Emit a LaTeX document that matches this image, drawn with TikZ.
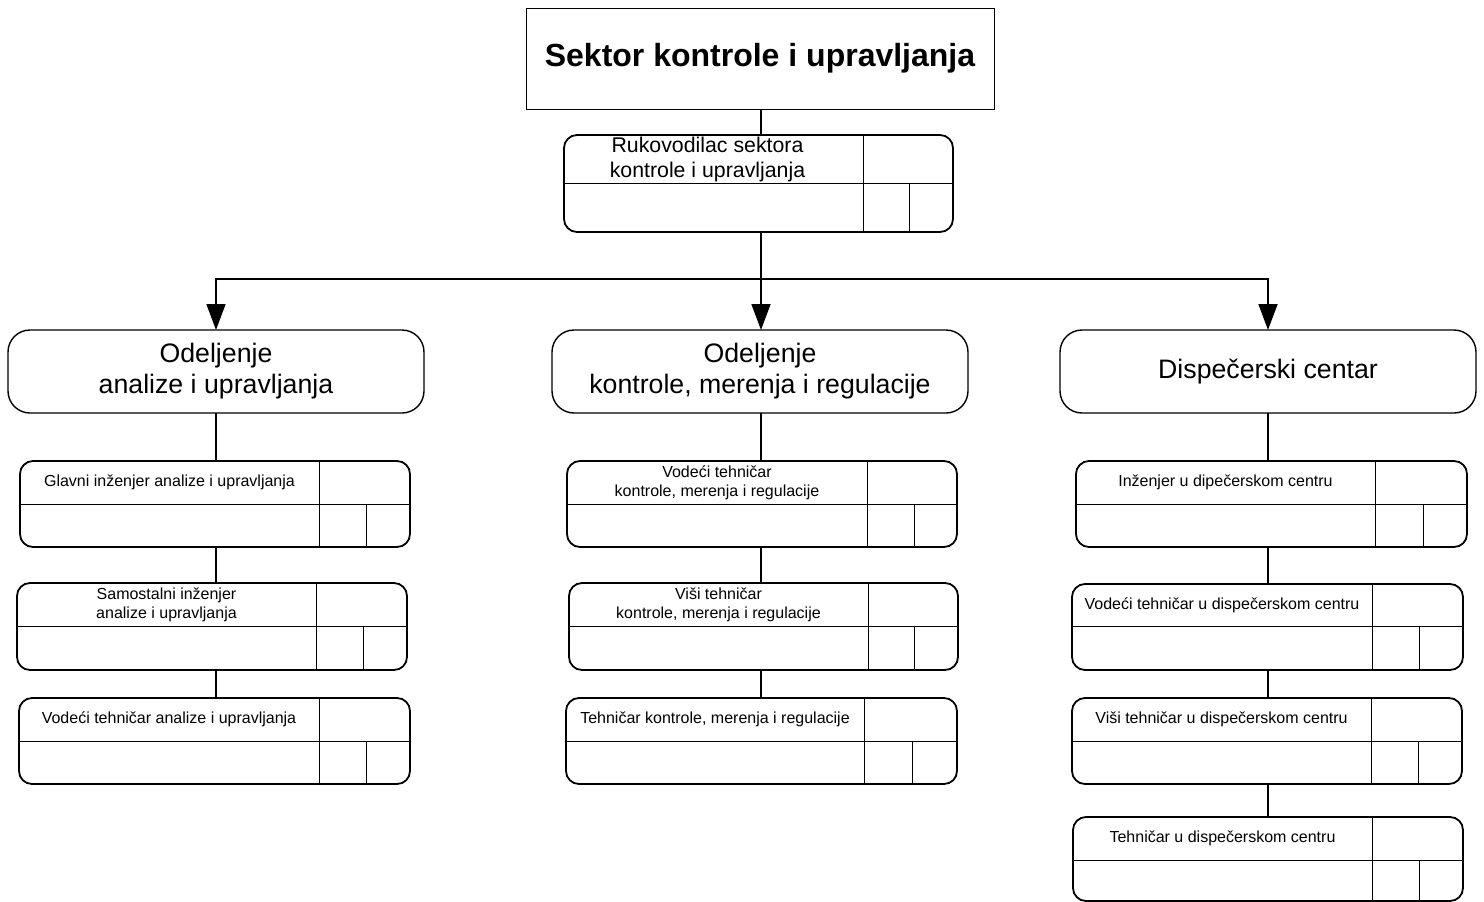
\documentclass[tikz,border=0pt]{standalone}
\usepackage{fontspec}
\setmainfont{Liberation Sans}
\usetikzlibrary{arrows.meta}
\tikzset{
  rolebox/.style={draw, line width=1.8pt, rounded corners=13pt, inner sep=0pt, outer sep=0pt},
  divline/.style={line width=0.9pt},
  roletext/.style={align=center, inner sep=0pt, font=\fontsize{16}{19}\selectfont},
  deptbox/.style={draw, line width=1.4pt, rounded corners=22pt, minimum width=416pt, minimum height=83pt, inner sep=0pt, outer sep=0pt, align=center, font=\fontsize{26.7}{31}\selectfont},
  titlebox/.style={draw, line width=1pt, minimum width=468pt, minimum height=101pt, inner sep=0pt, outer sep=0pt, font=\bfseries\fontsize{32}{38}\selectfont},
  link/.style={line width=1.8pt},
  arrowlink/.style={link, -{Triangle[length=26pt,width=19pt]}},
}
% #1 name, #2 left, #3 top, #4 right, #5 bottom, #6 divider y, #7 first vertical x, #8 second vertical x, #9 text
\newcommand\rolecard[9]{%
  \draw[divline] (#2,#6) -- (#4,#6);
  \draw[divline] (#7,#3) -- (#7,#5);
  \draw[divline] (#8,#6) -- (#8,#5);
  \node[rolebox, minimum width={#4-#2}, minimum height={#5-#3}] (#1) at ({(#2+#4)/2},{(#3+#5)/2}) {};
  \node[roletext] (#1-t) at ({(#2+#7)/2},{(#3+#6)/2}) {#9};
}
\begin{document}
\begin{tikzpicture}[x=1pt, y=-1pt]
\useasboundingbox (0,0) rectangle (1484,902);
\fill[white] (0,0) rectangle (1484,902);

% top
\node[titlebox] (title) at (760,58.5) {Sektor kontrole i upravljanja};
\begin{scope}[roletext/.append style={font=\fontsize{21.3}{25}\selectfont, xshift=-6pt}]
\rolecard{ruk}{564}{135}{953}{232}{183}{863}{909.5}{Rukovodilac sektora\\kontrole i upravljanja}
\end{scope}

% departments
\node[deptbox] (d1) at (216,371.5) {Odeljenje\\analize i upravljanja};
\node[deptbox] (d2) at (760,371.5) {Odeljenje\\kontrole, merenja i regulacije};
\node[deptbox] (d3) at (1268,371.5) {Dispečerski centar};

% left column
\rolecard{l1}{20}{461}{410}{547}{504}{319}{366}{Glavni inženjer analize i upravljanja}
\rolecard{l2}{17}{583}{407}{670}{626}{316}{363}{Samostalni inženjer\\analize i upravljanja}
\rolecard{l3}{19}{698}{410}{784}{741}{319}{366}{Vodeći tehničar analize i upravljanja}

% middle column
\rolecard{m1}{567}{461}{957}{547}{504}{867}{914}{Vodeći tehničar\\kontrole, merenja i regulacije}
\rolecard{m2}{569}{583}{958}{670}{626}{868}{914}{Viši tehničar\\kontrole, merenja i regulacije}
\rolecard{m3}{566}{698}{957}{784}{741}{864}{912}{Tehničar kontrole, merenja i regulacije}

% right column
\rolecard{r1}{1076}{461}{1467}{547}{504}{1375}{1423}{Inženjer u dipečerskom centru}
\rolecard{r2}{1072}{584}{1463}{670}{626}{1372}{1419}{Vodeći tehničar u dispečerskom centru}
\rolecard{r3}{1072}{698}{1462}{784}{741}{1371}{1418}{Viši tehničar u dispečerskom centru}
\rolecard{r4}{1073}{817}{1463}{901}{860}{1372}{1419}{Tehničar u dispečerskom centru}

% connectors
\coordinate (bus) at (761,279);
\draw[link] (title.south -| bus) -- (ruk.north -| bus);
\draw[arrowlink] (ruk.south -| bus) -- (d2.north -| bus);
\draw[arrowlink] (bus) -| (d1.north);
\draw[arrowlink] (bus) -| (d3.north);

\draw[link] (d1.south) -- (l1.north -| d1.south);
\draw[link] (l1.south -| d1.south) -- (l2.north -| d1.south);
\draw[link] (l2.south -| d1.south) -- (l3.north -| d1.south);

\draw[link] (d2.south -| bus) -- (m1.north -| bus);
\draw[link] (m1.south -| bus) -- (m2.north -| bus);
\draw[link] (m2.south -| bus) -- (m3.north -| bus);

\draw[link] (d3.south) -- (r1.north -| d3.south);
\draw[link] (r1.south -| d3.south) -- (r2.north -| d3.south);
\draw[link] (r2.south -| d3.south) -- (r3.north -| d3.south);
\draw[link] (r3.south -| d3.south) -- (r4.north -| d3.south);
\end{tikzpicture}
\end{document}
